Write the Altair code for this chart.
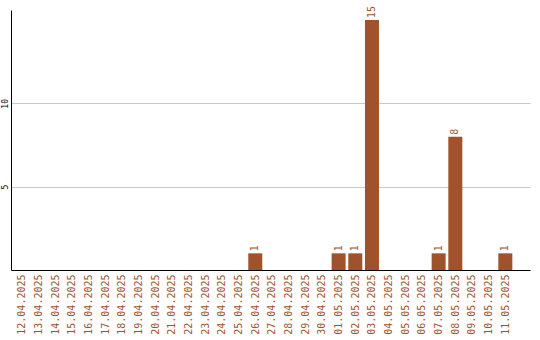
import altair as alt
import pandas as pd

dates = ["12.04.2025", "13.04.2025", "14.04.2025", "15.04.2025", "16.04.2025",
         "17.04.2025", "18.04.2025", "19.04.2025", "20.04.2025", "21.04.2025",
         "22.04.2025", "23.04.2025", "24.04.2025", "25.04.2025", "26.04.2025",
         "27.04.2025", "28.04.2025", "29.04.2025", "30.04.2025", "01.05.2025",
         "02.05.2025", "03.05.2025", "04.05.2025", "05.05.2025", "06.05.2025",
         "07.05.2025", "08.05.2025", "09.05.2025", "10.05.2025", "11.05.2025"]
counts = [0, 0, 0, 0, 0, 0, 0, 0, 0, 0, 0, 0, 0, 0, 1,
          0, 0, 0, 0, 1, 1, 15, 0, 0, 0, 1, 8, 0, 0, 1]

df = pd.DataFrame({"idx": list(range(len(dates))), "date": dates, "count": counts})

BROWN = "#A0522D"
FONT = "DejaVu Sans Mono"

label_arr = "[" + ",".join("'%s'" % d for d in dates) + "]"

xscale = alt.Scale(domain=[-0.353, 30.18], nice=False, zero=False)
yscale = alt.Scale(domain=[0, 15.6], nice=False)

x = alt.X("idx:Q", scale=xscale,
          axis=alt.Axis(values=list(range(len(dates))), labelExpr=label_arr + "[datum.value]",
                        labelAngle=270, labelAlign="right", labelBaseline="middle",
                        labelColor=BROWN, labelFont=FONT, labelFontSize=10,
                        labelPadding=4, ticks=False, grid=False, title=None,
                        domainColor="black", domainWidth=1, labelOverlap=False,
                        labelBound=False, labelFlush=False, tickCount=30))
y = alt.Y("count:Q", scale=yscale,
          axis=alt.Axis(values=[5, 10], labelAngle=270, labelFont=FONT, labelFontSize=8,
                        labelColor="black", labelPadding=2, ticks=False,
                        grid=True, gridColor="#c8c8c8", gridWidth=1,
                        domainColor="black", domainWidth=1, title=None,
                        labelAlign="center", labelBaseline="bottom"))

bars = alt.Chart(df).mark_bar(color=BROWN, size=14).encode(x=x, y=y)

text = alt.Chart(df).transform_filter("datum.count > 0").mark_text(
    angle=270, align="left", baseline="middle", dx=2, color=BROWN,
    font=FONT, fontSize=10
).encode(x=x, y=y, text="count:Q")

chart = alt.layer(bars, text).properties(
    width=519, height=260,
    autosize=alt.AutoSizeParams(type="none"),
    padding={"left": 11, "top": 10, "right": 10, "bottom": 70},
    background="white"
).configure_view(stroke=None)

chart.save("out.html", embed_options={"renderer": "svg", "actions": False})
